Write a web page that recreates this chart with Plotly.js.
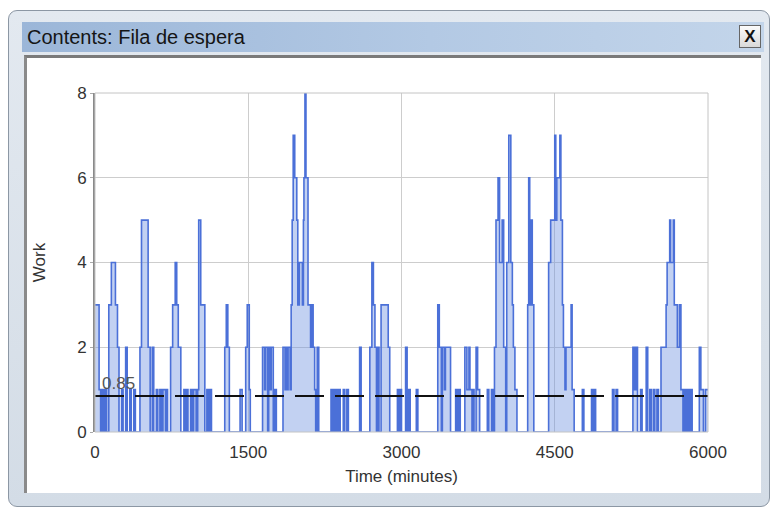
<!DOCTYPE html>
<html><head><meta charset="utf-8">
<script src="https://cdn.plot.ly/plotly-3.0.1.min.js"></script>
<style>
html,body{margin:0;padding:0;background:#fff;width:773px;height:509px;overflow:hidden;}
#win{position:absolute;left:8px;top:10px;width:762px;height:497px;border-radius:9px;background:linear-gradient(#e3e9f0,#d3dce6);border:1px solid #8c97a4;box-sizing:border-box;}
#bar{position:absolute;left:22px;top:22px;width:742px;height:30px;background:linear-gradient(to right,#9bb6d8,#b3c9e4 55%,#c3d5ea);}
#ttl{position:absolute;left:27px;top:26px;font:20px "Liberation Sans",Arial,sans-serif;color:#151515;white-space:nowrap;}
#close{position:absolute;left:739px;top:25px;width:22px;height:23px;background:linear-gradient(#fbfbfb,#d9d9d9);border:1px solid #666;box-sizing:border-box;font:bold 17px "Liberation Sans",Arial,sans-serif;text-align:center;line-height:21px;color:#111;}
#inner{position:absolute;left:24px;top:55px;width:737px;height:438px;background:#fff;border-top:3px solid #7a7a7a;border-left:3px solid #8a8a8a;box-sizing:border-box;}
#chart{position:absolute;left:0;top:0;width:773px;height:509px;}
</style>
</head>
<body>
<div id="win"></div>
<div id="bar"></div>
<div id="ttl">Contents: Fila de espera</div>
<div id="close">X</div>
<div id="inner"></div>
<div id="chart"></div>
<script>
const windowTitle = "Contents: Fila de espera";
const xTickVals = [0, 1500, 3000, 4500, 6000];
const xTickText = ["0", "1500", "3000", "4500", "6000"];
const yTickVals = [0, 2, 4, 6, 8];
const meanValue = 0.85;
const meanLabel = "0.85";

const time = [
  0,40,55,70,85,100,115,135,160,200,220,235,260,275,300,315,340,355,380,395,
  440,455,520,540,560,575,600,615,635,650,665,690,700,710,
  740,760,785,800,815,840,870,885,900,910,935,950,965,990,1005,1015,1035,1075,1095,1110,1125,1140,
  1270,1285,1300,1315,1420,1440,1475,1490,1510,1520,
  1640,1660,1670,1690,1700,1715,1725,1745,1760,1775,
  1840,1860,1870,1880,1890,1910,1920,1930,1940,1955,1975,1985,2000,2030,2040,2045,2055,2065,2085,2110,2120,2135,2150,2160,2175,2190,
  2310,2325,2335,2350,2360,2375,2385,2400,2430,2445,2465,2480,
  2590,2605,2690,2710,2725,2740,2755,2765,2780,2800,2870,2885,
  2960,2975,2985,3000,3040,3055,3070,3085,3145,3160,
  3355,3370,3390,3400,3420,3430,3480,
  3530,3545,3560,3575,3620,3640,3660,3670,3690,3700,3710,3730,3745,3765,
  3840,3855,3880,3895,3910,3925,3945,3960,3985,4000,4020,4030,4050,4070,4085,4095,4110,4130,
  4235,4245,4255,4270,4280,4295,
  4440,4460,4500,4510,4520,4550,4560,4575,4585,4600,4610,4660,4670,4690,
  4770,4785,4860,4875,4885,4900,5065,5080,5100,5115,
  5265,5280,5295,5310,5340,5355,5395,5410,5430,5445,5465,5480,5500,5515,
  5540,5590,5600,5625,5635,5660,5670,5700,5720,5735,5755,5770,5785,5800,5815,5830,5845,
  5915,5930,5955,5975,6000
];
const work = [
  3,1,0,1,0,1,0,3,4,3,2,0,1,0,2,0,1,0,1,0,
  2,5,2,0,2,0,1,0,1,0,1,0,1,0,
  2,3,4,3,2,0,1,0,1,0,1,0,1,0,1,5,3,0,1,0,1,0,
  2,3,2,0,1,0,2,3,1,0,
  2,1,2,0,2,1,2,0,1,0,
  2,1,2,1,2,1,3,5,7,6,5,3,4,3,5,6,8,6,3,2,3,2,1,0,2,0,
  1,0,1,0,1,0,1,0,1,0,1,0,
  2,0,2,4,3,2,0,2,0,3,2,0,
  1,0,1,0,2,0,1,0,1,0,
  3,2,0,2,1,2,0,
  1,0,1,0,2,1,2,1,0,1,0,2,1,0,
  1,0,1,0,2,5,6,4,5,2,0,4,7,4,3,2,1,0,
  3,6,3,5,3,0,
  4,5,7,5,6,7,5,3,2,1,2,3,1,0,
  1,0,1,0,1,0,1,0,1,0,
  2,1,2,0,1,0,2,0,1,0,1,0,1,0,
  2,3,4,5,4,5,3,2,3,1,0,1,0,1,0,1,0,
  2,1,0,1,1
];

document.getElementById('ttl').textContent = windowTitle;

const fontFam = '"Liberation Sans", Arial, sans-serif';
const traces = [
  {
    x: time, y: work, type: 'scatter', mode: 'lines',
    line: {shape: 'hv', color: '#4b70d8', width: 1.6},
    fill: 'tozeroy', fillcolor: 'rgba(110,145,225,0.42)',
    hoverinfo: 'skip'
  },
  {
    x: [xTickVals[0], xTickVals[xTickVals.length - 1]], y: [meanValue, meanValue],
    type: 'scatter', mode: 'lines',
    line: {color: '#111', width: 2, dash: '29px,11px'},
    hoverinfo: 'skip'
  }
];
const layout = {
  width: 773, height: 509,
  margin: {l: 95, r: 65, t: 93, b: 77, pad: 0},
  paper_bgcolor: 'rgba(0,0,0,0)', plot_bgcolor: 'rgba(0,0,0,0)',
  showlegend: false,
  font: {family: fontFam, color: '#333'},
  xaxis: {
    range: [0, 6000], tickvals: xTickVals, ticktext: xTickText,
    showgrid: true, gridcolor: '#cdcdcd', gridwidth: 1, zeroline: false,
    showline: false, ticks: 'outside', ticklen: 5, tickcolor: 'rgba(0,0,0,0)',
    tickfont: {size: 17, color: '#333', family: fontFam},
    title: {text: 'Time (minutes)', font: {size: 17, color: '#333', family: fontFam}, standoff: 8}
  },
  yaxis: {
    range: [0, 8], tickvals: yTickVals,
    showgrid: true, gridcolor: '#cdcdcd', gridwidth: 1, zeroline: false,
    showline: true, linecolor: '#8a8a8a', linewidth: 2,
    ticks: 'outside', ticklen: 3, tickcolor: '#aaa',
    tickfont: {size: 17, color: '#333', family: fontFam},
    title: {text: 'Work', font: {size: 17, color: '#333', family: fontFam}, standoff: 27}
  },
  shapes: [
    {type: 'rect', xref: 'paper', yref: 'paper', x0: 0, x1: 1, y0: 0, y1: 1,
     line: {color: '#c4c4c4', width: 1}, fillcolor: 'rgba(0,0,0,0)'}
  ],
  annotations: [
    {x: 0, y: meanValue, xref: 'x', yref: 'y', text: meanLabel, showarrow: false,
     xanchor: 'left', yanchor: 'bottom', xshift: 5, yshift: 1,
     font: {size: 17, color: '#555', family: fontFam}}
  ]
};
Plotly.newPlot('chart', traces, layout, {displayModeBar: false, staticPlot: true});
</script>
</body></html>
